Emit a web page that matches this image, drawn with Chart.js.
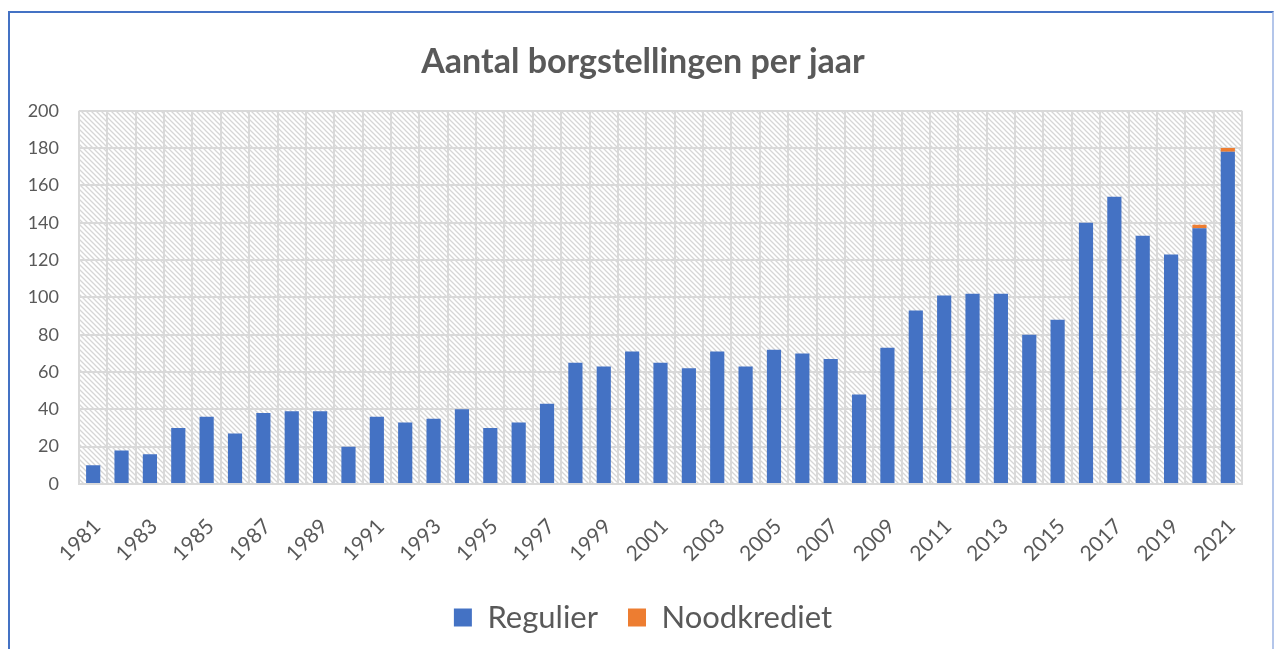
<!DOCTYPE html>
<html>
<head>
<meta charset="utf-8">
<script src="https://cdn.jsdelivr.net/npm/chart.js@4"></script>
<style>
  body { margin: 0; background: #fff; overflow: hidden; }
  #frame {
    position: absolute; left: 8px; top: 11px; width: 1262px; height: 660px;
    border: 2px solid #4472c4; border-right-color: #b4c6ea;
  }
  #wrap { position: absolute; left: 0; top: 0; width: 1286px; height: 649px; }
</style>
</head>
<body>
<div id="frame"></div>
<div id="wrap"><canvas id="chart"></canvas></div>
<script>
// jaren 1981 t/m 2021
const years = ['1981','1982','1983','1984','1985','1986','1987','1988','1989','1990',
  '1991','1992','1993','1994','1995','1996','1997','1998','1999','2000',
  '2001','2002','2003','2004','2005','2006','2007','2008','2009','2010',
  '2011','2012','2013','2014','2015','2016','2017','2018','2019','2020','2021'];

// aantallen
const regulier = [10, 18, 16, 30, 36, 27, 38, 39, 39, 20,
  36, 33, 35, 40, 30, 33, 43, 65, 63, 71,
  65, 62, 71, 63, 72, 70, 67, 48, 73, 93,
  101, 102, 102, 80, 88, 140, 154, 133, 123, 137, 178];
const noodkrediet = [0, 0, 0, 0, 0, 0, 0, 0, 0, 0,
  0, 0, 0, 0, 0, 0, 0, 0, 0, 0,
  0, 0, 0, 0, 0, 0, 0, 0, 0, 0,
  0, 0, 0, 0, 0, 0, 0, 0, 0, 2, 2];

const yTicks = [0, 20, 40, 60, 80, 100, 120, 140, 160, 180, 200];

// diagonal hatch for the plot background
function makeHatch() {
  const c = document.createElement('canvas');
  c.width = 5; c.height = 5;
  const g = c.getContext('2d');
  g.fillStyle = '#ffffff';
  g.fillRect(0, 0, 5, 5);
  g.strokeStyle = '#d6d6d6';
  g.lineWidth = 1.3;
  g.beginPath();
  g.moveTo(-1, -1); g.lineTo(6, 6);
  g.moveTo(-1, 4); g.lineTo(1, 6);
  g.moveTo(4, -1); g.lineTo(6, 1);
  g.stroke();
  return c;
}

const hatchPlugin = {
  id: 'hatch',
  beforeDraw(chart) {
    const a = chart.chartArea;
    const ctx = chart.ctx;
    ctx.save();
    ctx.fillStyle = ctx.createPattern(makeHatch(), 'repeat');
    ctx.fillRect(a.left, a.top, a.right - a.left, a.bottom - a.top);
    ctx.restore();
  }
};

const grey = '#595959';
const gridColor = '#d9d9d9';

new Chart(document.getElementById('chart'), {
  type: 'bar',
  data: {
    labels: years,
    datasets: [
      { label: 'Regulier', data: regulier, backgroundColor: '#4472c4',
        barPercentage: 0.5, categoryPercentage: 1 },
      { label: 'Noodkrediet', data: noodkrediet, backgroundColor: '#ed7d31',
        barPercentage: 0.5, categoryPercentage: 1 }
    ]
  },
  options: {
    responsive: true,
    maintainAspectRatio: false,
    animation: false,
    layout: { padding: { left: 0, right: 0, bottom: 6 } },
    plugins: {
      title: {
        display: true,
        text: 'Aantal borgstellingen per jaar',
        color: grey,
        font: { family: 'Lato', size: 34, weight: 'bold' },
        padding: { top: 42, bottom: 28 }
      },
      legend: {
        position: 'bottom',
        labels: {
          color: grey,
          font: { family: 'Lato', size: 31 },
          boxWidth: 18, boxHeight: 18, padding: 30
        }
      },
      tooltip: { enabled: false }
    },
    scales: {
      x: {
        stacked: true,
        grid: { color: gridColor, lineWidth: 2, drawTicks: false },
        border: { color: gridColor, width: 2 },
        ticks: {
          color: grey,
          font: { family: 'Lato', size: 21 },
          autoSkip: false,
          maxRotation: 45, minRotation: 45,
          padding: 30,
          labelOffset: 4,
          callback: function(value, index) {
            return index % 2 === 0 ? years[index] : '';
          }
        },
        afterFit: function(s) { s.height = 88; }
      },
      y: {
        stacked: true,
        min: 0, max: 200,
        afterBuildTicks: function(s) {
          s.ticks = yTicks.map(function(v) { return { value: v }; });
        },
        grid: { color: gridColor, lineWidth: 2, drawTicks: false },
        border: { display: false },
        ticks: {
          color: grey,
          font: { family: 'Lato', size: 18 },
          padding: 20
        },
        afterFit: function(s) { s.width = 79; }
      },
      // empty right axis, only keeps room so title and legend sit centred like the original
      yRight: {
        position: 'right',
        min: 0, max: 1,
        grid: { drawOnChartArea: false, drawTicks: false },
        border: { display: false },
        ticks: { display: false },
        afterFit: function(s) { s.width = 44; }
      }
    }
  },
  plugins: [hatchPlugin]
});
</script>
</body>
</html>
